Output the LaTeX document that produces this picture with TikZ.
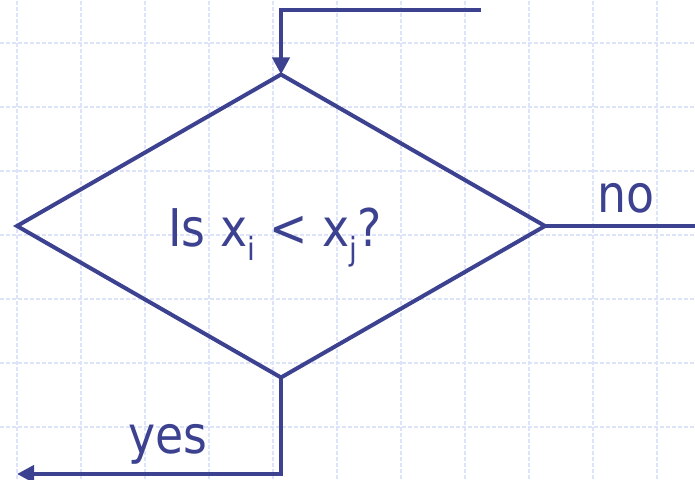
\documentclass[tikz,border=0pt]{standalone}
\usepackage{fontspec}
\setmainfont{DejaVu Sans}[FakeStretch=0.88]
\usetikzlibrary{shapes.geometric,arrows.meta}
\definecolor{ink}{HTML}{3C4290}
\definecolor{gridc}{HTML}{DDE4FA}
\newcommand{\subtxt}[1]{\raisebox{-14pt}{\fontsize{32}{32}\selectfont #1}}
\begin{document}
\begin{tikzpicture}[x=1pt,y=1pt,
 flow/.style={draw=ink,line width=4pt},
 arr/.style={flow,-{Triangle[length=17pt,width=17pt]}},
 lbl/.style={text=ink,font=\fontsize{52}{52}\selectfont,inner sep=0pt,anchor=base west},
 gridline/.style={draw=gridc,line width=1.5pt,dash pattern=on 4pt off 2pt}]
\useasboundingbox (0,0) rectangle (695,479);
\fill[white] (0,0) rectangle (695,479);
\foreach \x in {17,81,...,657} \draw[gridline] (\x,0) -- (\x,479);
\foreach \y in {43,107,...,428} \draw[gridline] (0,479-\y) -- (695,479-\y);
\node[draw=ink, line width=4pt, diamond, minimum width=528pt, minimum height=303pt, inner sep=0pt, outer sep=0pt] (d) at (281,253) {};
\coordinate (start) at (481,469);
\coordinate (bend) at (281,469);
\coordinate (noend) at ([xshift=160pt]d.east);
\coordinate (ybend) at (281,5);
\coordinate (yend) at (17,5);
\draw[arr] (start) -- (bend) -- (d.north);
\draw[flow] (d.east) -- (noend);
\draw[arr] (d.south) -- (ybend) -- (yend);
\node[lbl] (q) at (168,232) {Is x\subtxt{i} < x\subtxt{j}?};
\node[lbl] (no) at (597,266) {no};
\node[lbl] (yes) at (128,26) {yes};
\end{tikzpicture}
\end{document}
